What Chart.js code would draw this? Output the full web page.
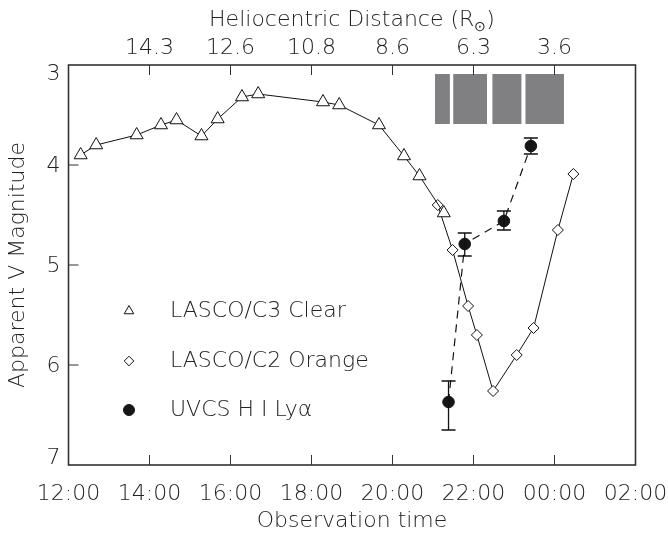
<!DOCTYPE html>
<html>
<head>
<meta charset="utf-8">
<script src="https://cdn.jsdelivr.net/npm/chart.js@4.4.0/dist/chart.umd.min.js"></script>
<style>
  html, body { margin: 0; padding: 0; background: #fff; }
  #wrap { width: 668px; height: 534px; }
</style>
</head>
<body>
<div id="wrap"><canvas id="mychart"></canvas></div>
<script>
// LASCO/C3 Clear
const c3Time = ['12:18', '12:41', '13:41', '14:17', '14:40', '15:17', '15:41', '16:17', '16:41', '18:17', '18:41', '19:40', '20:17', '20:40', '21:16'];
const c3Mag = [3.90, 3.80, 3.70, 3.60, 3.55, 3.71, 3.54, 3.32, 3.29, 3.37, 3.40, 3.60, 3.91, 4.11, 4.48];

// LASCO/C2 Orange
const c2Time = ['21:07', '21:29', '21:52', '22:05', '22:29', '23:04', '23:29', '00:05', '00:28'];
const c2Mag = [4.40, 4.85, 5.41, 5.70, 6.26, 5.90, 5.63, 4.65, 4.09];

// UVCS H I Ly-alpha with error bars
const uvTime = ['21:23', '21:47', '22:45', '23:25'];
const uvMag = [6.37, 4.79, 4.56, 3.81];
const uvLow = [6.16, 4.68, 4.46, 3.73];
const uvHigh = [6.65, 4.91, 4.65, 3.89];

// grey blocks at the top (start, end)
const blockStart = ['21:03', '21:30', '22:28', '23:17'];
const blockEnd = ['21:25', '22:20', '23:11', '00:14'];
const blockTop = 3.09;
const blockBottom = 3.59;

// top axis
const distTimes = [14, 16, 18, 20, 22, 24];
const distLabels = ['14.3', '12.6', '10.8', '8.6', '6.3', '3.6'];

const legendNames = ['LASCO/C3 Clear', 'LASCO/C2 Orange', 'UVCS H I Ly\u03B1'];

function hrs(t) {
  const p = t.split(':');
  let h = +p[0] + (+p[1]) / 60;
  if (h < 12) h += 24;
  return h;
}
function pts(ts, ms) {
  return ts.map((t, i) => ({ x: hrs(t), y: ms[i] }));
}

const FONT = { family: "'DejaVu Sans', sans-serif", size: 22, weight: '200' };
const INK = '#222';

// grey blocks
const blocks = {
  id: 'blocks',
  beforeDatasetsDraw(chart) {
    const { ctx, scales: { x, y } } = chart;
    ctx.save();
    ctx.fillStyle = '#808082';
    blockStart.forEach((s, i) => {
      const x0 = x.getPixelForValue(hrs(s));
      const x1 = x.getPixelForValue(hrs(blockEnd[i]));
      const y0 = y.getPixelForValue(blockTop);
      const y1 = y.getPixelForValue(blockBottom);
      ctx.fillRect(x0, y0, x1 - x0, y1 - y0);
    });
    ctx.restore();
  }
};

// error bars
const errBars = {
  id: 'errBars',
  afterDatasetsDraw(chart) {
    const { ctx, scales: { x, y } } = chart;
    ctx.save();
    ctx.strokeStyle = '#111';
    ctx.lineWidth = 1.3;
    uvTime.forEach((t, i) => {
      const px = x.getPixelForValue(hrs(t));
      const y0 = y.getPixelForValue(uvLow[i]);
      const y1 = y.getPixelForValue(uvHigh[i]);
      ctx.beginPath();
      ctx.moveTo(px, y0); ctx.lineTo(px, y1);
      ctx.moveTo(px - 7, y0); ctx.lineTo(px + 7, y0);
      ctx.moveTo(px - 7, y1); ctx.lineTo(px + 7, y1);
      ctx.stroke();
    });
    ctx.restore();
  }
};

// frame, inward ticks, y labels, top title, legend
const frame = {
  id: 'frame',
  afterDraw(chart) {
    const { ctx, chartArea: a, scales } = chart;
    const f = (s) => `${FONT.weight} ${s}px ${FONT.family}`;
    ctx.save();
    ctx.strokeStyle = '#333';
    ctx.lineWidth = 1.6;
    ctx.strokeRect(a.left, a.top, a.right - a.left, a.bottom - a.top);
    ctx.lineWidth = 1;
    ctx.beginPath();
    scales.x.ticks.forEach(t => {
      if (t.value <= 12 || t.value >= 26) return;
      const px = scales.x.getPixelForValue(t.value);
      ctx.moveTo(px, a.bottom); ctx.lineTo(px, a.bottom - 10);
    });
    scales.x2.ticks.forEach(t => {
      const px = scales.x2.getPixelForValue(t.value);
      ctx.moveTo(px, a.top); ctx.lineTo(px, a.top + 10);
    });
    scales.y.ticks.forEach(t => {
      if (t.value <= 3 || t.value >= 7) return;
      const py = scales.y.getPixelForValue(t.value);
      ctx.moveTo(a.left, py); ctx.lineTo(a.left + 10, py);
    });
    ctx.stroke();

    // y labels, end labels pulled inside the frame like the original
    ctx.fillStyle = INK;
    ctx.font = f(22);
    ctx.textAlign = 'right';
    ctx.textBaseline = 'middle';
    scales.y.ticks.forEach(t => {
      let py = scales.y.getPixelForValue(t.value);
      py = Math.min(Math.max(py, a.top + 8), a.bottom - 8);
      ctx.fillText(String(t.value), a.left - 8, py + 1);
    });

    // top title with subscript sun symbol
    ctx.textAlign = 'left';
    const p1 = 'Heliocentric Distance (R', p3 = ')';
    ctx.font = f(22);
    const w1 = ctx.measureText(p1).width, w3 = ctx.measureText(p3).width;
    ctx.font = f(14);
    const w2 = ctx.measureText('\u2299').width;
    let tx = (a.left + a.right) / 2 - (w1 + w2 + w3) / 2;
    ctx.font = f(22);
    ctx.fillText(p1, tx, 20);
    ctx.font = f(14);
    ctx.fillText('\u2299', tx + w1, 27);
    ctx.font = f(22);
    ctx.fillText(p3, tx + w1 + w2, 20);

    // legend
    const rows = [311, 361, 410];
    chart.data.datasets.forEach((ds, i) => {
      ctx.fillStyle = ds.pointBackgroundColor;
      ctx.strokeStyle = ds.pointBorderColor;
      ctx.lineWidth = 1;
      Chart.helpers.drawPoint(ctx, {
        pointStyle: ds.pointStyle,
        radius: [5.5, 4.8, 5.5][i],
        rotation: 0,
        borderWidth: 1
      }, 129, rows[i]);
      ctx.fillStyle = INK;
      ctx.font = f(22);
      ctx.fillText(legendNames[i], 170, rows[i]);
    });
    ctx.restore();
  }
};

// no label overhang padding, keep the plot box fixed
function noPad(s) {
  s.paddingLeft = 0;
  s.paddingRight = 0;
}

const ctx1 = document.getElementById('mychart');
const chart1 = new Chart(ctx1, {
  type: 'scatter',
  data: {
    datasets: [{
      label: legendNames[0],
      data: pts(c3Time, c3Mag),
      showLine: true,
      borderColor: '#111',
      borderWidth: 1,
      pointStyle: 'triangle',
      pointRadius: 7.5,
      pointBackgroundColor: '#fff',
      pointBorderColor: '#111',
      pointBorderWidth: 1
    }, {
      label: legendNames[1],
      data: pts(c2Time, c2Mag),
      showLine: true,
      borderColor: '#111',
      borderWidth: 1,
      pointStyle: 'rectRot',
      pointRadius: 5.5,
      pointBackgroundColor: '#fff',
      pointBorderColor: '#111',
      pointBorderWidth: 1
    }, {
      label: legendNames[2],
      data: pts(uvTime, uvMag),
      showLine: true,
      borderColor: '#111',
      borderWidth: 1.2,
      borderDash: [8, 6],
      pointStyle: 'circle',
      pointRadius: 5.8,
      pointBackgroundColor: '#161616',
      pointBorderColor: '#161616',
      pointBorderWidth: 1
    }]
  },
  options: {
    responsive: true,
    maintainAspectRatio: false,
    animation: false,
    layout: { padding: { left: 0, right: 32.5, top: 0, bottom: 0 } },
    plugins: { legend: { display: false }, tooltip: { enabled: false } },
    scales: {
      x: {
        type: 'linear',
        position: 'bottom',
        min: 12,
        max: 26,
        grid: { display: false },
        border: { display: false },
        ticks: {
          stepSize: 2,
          padding: 8,
          color: INK,
          font: FONT,
          maxRotation: 0,
          callback: v => String(v % 24).padStart(2, '0') + ':00'
        },
        title: { display: true, text: 'Observation time', color: INK, font: FONT, padding: { top: 0, bottom: 0 } },
        afterFit: s => { s.height = 69; noPad(s); }
      },
      x2: {
        type: 'linear',
        position: 'top',
        min: 12,
        max: 26,
        grid: { display: false },
        border: { display: false },
        afterBuildTicks: s => { s.ticks = distTimes.map(v => ({ value: v })); },
        ticks: {
          padding: -4,
          color: INK,
          font: FONT,
          maxRotation: 0,
          callback: (v, i) => distLabels[i]
        },
        afterFit: s => { s.height = 65; noPad(s); }
      },
      y: {
        type: 'linear',
        reverse: true,
        min: 3,
        max: 7,
        grid: { display: false },
        border: { display: false },
        ticks: { display: false, stepSize: 1 },
        title: { display: true, text: 'Apparent V Magnitude', color: INK, font: FONT, padding: { top: 5, bottom: 0 } },
        afterFit: s => { s.width = 68.5; }
      }
    }
  },
  plugins: [blocks, errBars, frame]
});
</script>
</body>
</html>
